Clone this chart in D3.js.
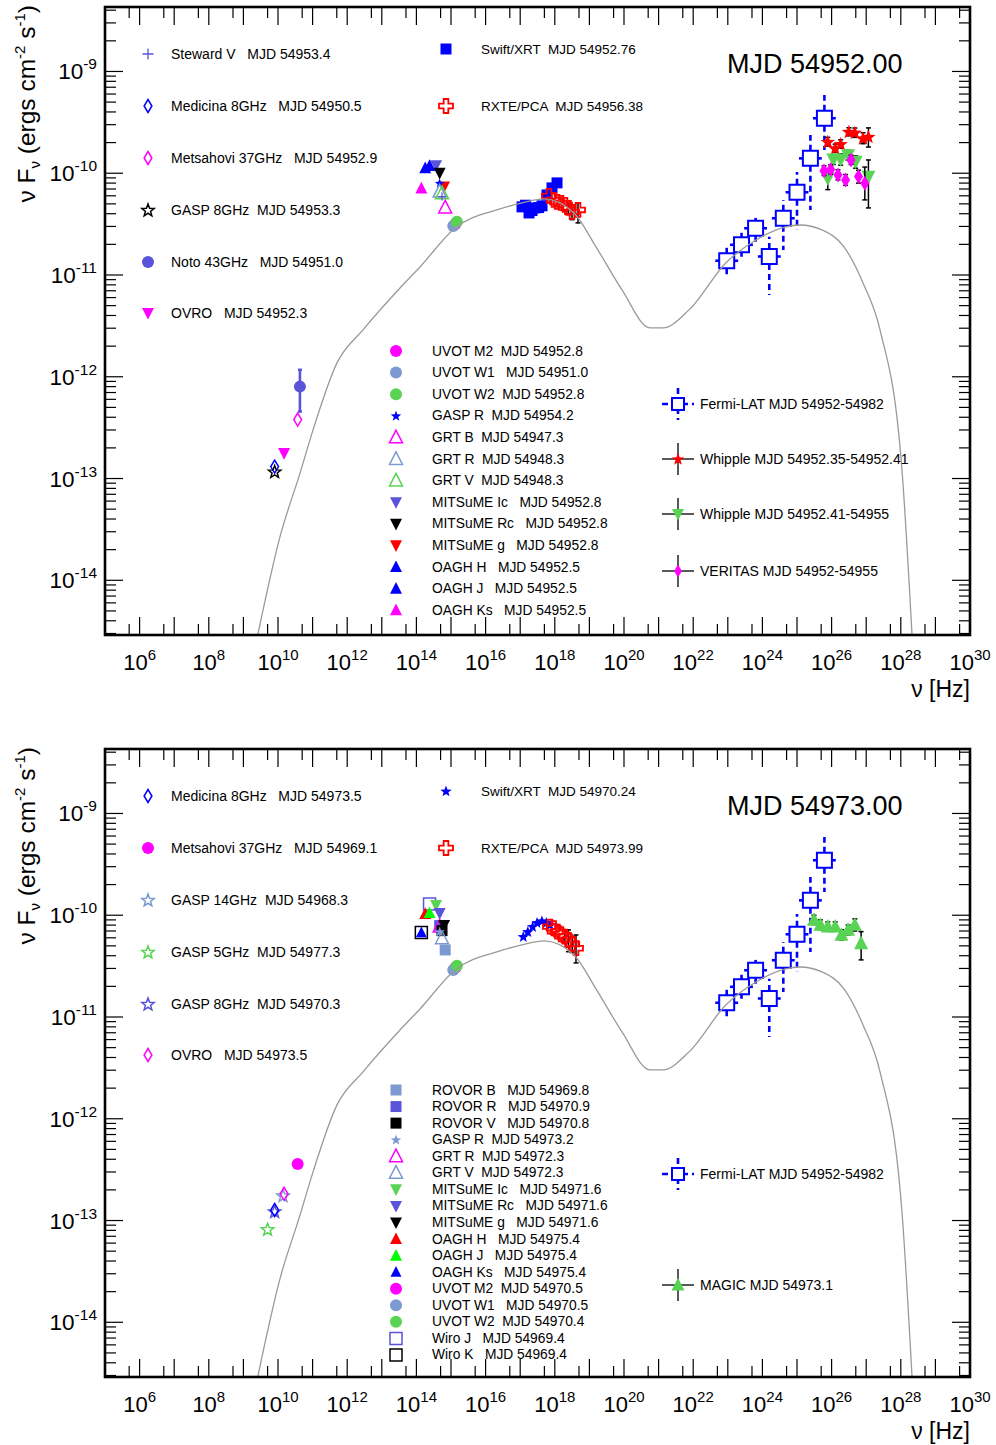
<!DOCTYPE html>
<html><head><meta charset="utf-8">
<script src="https://cdn.jsdelivr.net/npm/d3@7"></script>
<style>body{margin:0;background:#fff} text{font-family:"Liberation Sans",Arial,Helvetica,sans-serif;white-space:pre}</style>
</head><body><svg id="c" width="996" height="1445" xmlns="http://www.w3.org/2000/svg"></svg>
<script>
// ---------------- axes ----------------
const X_DOMAIN = [1e5, 1e30];
const Y_DOMAIN = [2.9e-15, 4.3e-9];
const xMajorExp = d3.range(5, 31);            // decades
const xLabelExp = [6,8,10,12,14,16,18,20,22,24,26,28,30];
const yLabelExp = [-9,-10,-11,-12,-13,-14];
const panelTitles = ["MJD 54952.00", "MJD 54973.00"];

// ---------------- model curve (same in both panels) ----------------
const modelNu = [2.6e9,1.14e10,4.33e10,1.03e11,5.07e11,2.86e12,3.36e13,1.27e14,1.31e15,2.61e16,1.13e17,4.88e17,3.59e18,1.55e19,8.75e19,5.64e20,1.34e21,7.57e21,8.87e22,6.53e23,4.50e24,1.22e25,5.28e25,2.28e26,8.09e26,2.51e27,1.08e28,2.11e28];
const modelF  = [2.92e-15,2.67e-14,1.13e-13,3.01e-13,1.37e-12,2.89e-12,7.46e-12,1.20e-11,2.90e-11,4.46e-11,5.11e-11,5.60e-11,4.07e-11,1.89e-11,7.14e-12,3.02e-12,3.02e-12,4.54e-12,1.32e-11,2.21e-11,2.96e-11,3.10e-11,2.77e-11,1.89e-11,8.36e-12,2.89e-12,1.22e-13,2.92e-15];

// ---------------- Fermi-LAT (both panels): [nu, F, nuLo, nuHi, Flo, Fhi] ----------------
const fermiLAT = [
 [9.29e22,1.38e-11,4.35e22,1.99e23,9.35e-12,1.85e-11],
 [2.49e23,1.98e-11,1.16e23,5.32e23,1.51e-11,2.60e-11],
 [6.36e23,2.88e-11,2.97e23,1.36e24,2.11e-11,3.64e-11],
 [1.58e24,1.52e-11,7.40e23,3.38e24,6.37e-12,2.37e-11],
 [4.02e24,3.61e-11,1.88e24,8.59e24,1.76e-11,5.47e-11],
 [1.00e25,6.50e-11,4.68e24,2.14e25,2.77e-11,1.03e-10],
 [2.44e25,1.40e-10,1.14e25,5.21e25,4.36e-11,2.38e-10],
 [6.20e25,3.47e-10,2.90e25,1.32e26,1.69e-10,5.87e-10]];

// ---------------- top panel (MJD 54952) ----------------
const A_stewardV   = [[5.5e14,5.9e-11]];
const A_medicina8  = [[8.0e9,1.31e-13]];
const A_metsahovi37= [[3.7e10,3.8e-13]];
const A_gasp8      = [[8.0e9,1.17e-13]];
const A_noto43     = [[4.3e10,8.0e-13,4.55e-13,1.17e-12]];
const A_ovro       = [[1.5e10,1.78e-13]];
const A_swiftXRT   = [[1.13e17,4.67e-11],[1.42e17,4.85e-11],[1.80e17,4.07e-11],[2.2e17,4.3e-11],[2.68e17,4.56e-11],[3.4e17,4.6e-11],[4.27e17,4.78e-11],[5.96e17,6.12e-11],[8.30e17,7.18e-11],[1.16e18,8.04e-11]];
const A_rxte       = [[6.79e17,5.98e-11],[9.48e17,5.47e-11],[1.16e18,5.22e-11],[1.51e18,5.11e-11],[1.97e18,4.88e-11],[2.49e18,4.56e-11,4.0e-11,5.1e-11],[3.14e18,4.17e-11,3.5e-11,4.9e-11],[4.69e18,4.36e-11,3.25e-11,5.11e-11]];
const A_uvotM2     = [[1.34e15,3.17e-11]];
const A_uvotW1     = [[1.16e15,3.03e-11]];
const A_uvotW2     = [[1.48e15,3.34e-11]];
const A_gaspR      = [[4.7e14,8.0e-11]];
const A_grtB       = [[6.8e14,4.6e-11]];
const A_grtR       = [[4.7e14,6.6e-11]];
const A_grtV       = [[5.5e14,6.35e-11]];
const A_mitsIc     = [[3.7e14,1.2e-10]];
const A_mitsRc     = [[4.7e14,1.01e-10]];
const A_mitsG      = [[6.3e14,7.4e-11]];
const A_oaghH      = [[1.8e14,1.12e-10]];
const A_oaghJ      = [[2.4e14,1.18e-10]];
const A_oaghKs     = [[1.39e14,7.1e-11]];
const A_whipple1   = [[7.76e25,2.04e-10,1.85e-10,2.25e-10],[1.27e26,1.76e-10,1.60e-10,1.93e-10],[1.83e26,1.94e-10,1.76e-10,2.13e-10],[3.16e26,2.56e-10,2.33e-10,2.80e-10],[4.69e26,2.51e-10,2.25e-10,2.78e-10],[8.09e26,2.21e-10,1.95e-10,2.50e-10],[1.16e27,2.29e-10,1.81e-10,2.79e-10]];
const A_whipple2   = [[7.76e25,8.93e-11,6.9e-11,1.05e-10],[1.12e26,1.37e-10,1.22e-10,1.52e-10],[1.83e26,1.37e-10,1.20e-10,1.55e-10],[2.98e26,1.51e-10,1.35e-10,1.68e-10],[4.94e26,1.30e-10,1.12e-10,1.48e-10],[1.16e27,9.26e-11,4.56e-11,1.35e-10]];
const A_veritas    = [[6.03e25,1.06e-10,9.5e-11,1.18e-10],[9.42e25,1.09e-10,9.8e-11,1.21e-10],[1.53e26,9.62e-11,8.6e-11,1.08e-10],[2.54e26,8.59e-11,7.6e-11,9.7e-11],[3.64e26,1.35e-10,1.22e-10,1.50e-10],[6.0e26,9.27e-11,8.0e-11,1.07e-10],[9.12e26,7.98e-11,5.47e-11,1.15e-10]];

const A_legLeft  = ["Steward V   MJD 54953.4","Medicina 8GHz   MJD 54950.5","Metsahovi 37GHz   MJD 54952.9","GASP 8GHz  MJD 54953.3","Noto 43GHz   MJD 54951.0","OVRO   MJD 54952.3"];
const A_legTop   = ["Swift/XRT  MJD 54952.76","RXTE/PCA  MJD 54956.38"];
const A_legMid   = ["UVOT M2  MJD 54952.8","UVOT W1   MJD 54951.0","UVOT W2  MJD 54952.8","GASP R  MJD 54954.2","GRT B  MJD 54947.3","GRT R  MJD 54948.3","GRT V  MJD 54948.3","MITSuME Ic   MJD 54952.8","MITSuME Rc   MJD 54952.8","MITSuME g   MJD 54952.8","OAGH H   MJD 54952.5","OAGH J   MJD 54952.5","OAGH Ks   MJD 54952.5"];
const A_legRight = ["Fermi-LAT MJD 54952-54982","Whipple MJD 54952.35-54952.41","Whipple MJD 54952.41-54955","VERITAS MJD 54952-54955"];

// ---------------- bottom panel (MJD 54973) ----------------
const B_medicina8  = [[8.0e9,1.27e-13]];
const B_metsahovi37= [[3.7e10,3.6e-13]];
const B_gasp14     = [[1.4e10,1.76e-13]];
const B_gasp5      = [[5.0e9,8.2e-14]];
const B_gasp8      = [[8.0e9,1.23e-13]];
const B_ovro       = [[1.5e10,1.83e-13]];
const B_swiftXRT   = [[1.23e17,6.17e-11],[1.66e17,6.9e-11],[2.28e17,7.73e-11],[3.06e17,8.46e-11],[4.24e17,8.79e-11],[5.68e17,8.46e-11],[7.26e17,8.03e-11]];
const B_rxte       = [[7.26e17,7.73e-11],[9.29e17,7.45e-11],[1.19e18,6.9e-11],[1.51e18,6.5e-11],[1.95e18,6.17e-11,5.4e-11,7.0e-11],[2.49e18,5.71e-11,4.38e-11,7.18e-11],[3.18e18,5.22e-11,4.3e-11,6.2e-11],[4.10e18,4.74e-11,3.4e-11,6.4e-11]];
const B_rovorB     = [[6.8e14,4.56e-11]];
const B_rovorR     = [[4.7e14,7.9e-11]];
const B_rovorV     = [[5.5e14,7.06e-11]];
const B_gaspR      = [[4.7e14,6.9e-11]];
const B_grtR       = [[4.7e14,7.73e-11]];
const B_grtV       = [[5.5e14,5.94e-11]];
const B_mitsIc     = [[3.7e14,1.26e-10]];
const B_mitsRc     = [[4.7e14,1.05e-10]];
const B_mitsG      = [[6.3e14,8.0e-11]];
const B_oaghH      = [[1.8e14,1.03e-10]];
const B_oaghJ      = [[2.4e14,1.05e-10]];
const B_oaghKs     = [[1.39e14,6.75e-11]];
const B_uvotM2     = [[1.34e15,3.04e-11]];
const B_uvotW1     = [[1.16e15,2.9e-11]];
const B_uvotW2     = [[1.48e15,3.18e-11]];
const B_wiroJ      = [[2.4e14,1.29e-10]];
const B_wiroK      = [[1.39e14,6.75e-11]];
const B_magic      = [[3.1e25,9.0e-11,8.1e-11,1.0e-10],[4.74e25,8.03e-11,7.2e-11,9.0e-11],[7.76e25,7.73e-11,7.0e-11,8.6e-11],[1.27e26,7.73e-11,7.0e-11,8.6e-11],[1.93e26,6.4e-11,5.7e-11,7.2e-11],[3.0e26,7.17e-11,6.4e-11,8.0e-11],[4.69e26,8.03e-11,7.0e-11,9.2e-11],[7.13e26,5.3e-11,3.64e-11,6.9e-11]];

const B_legLeft  = ["Medicina 8GHz   MJD 54973.5","Metsahovi 37GHz   MJD 54969.1","GASP 14GHz  MJD 54968.3","GASP 5GHz  MJD 54977.3","GASP 8GHz  MJD 54970.3","OVRO   MJD 54973.5"];
const B_legTop   = ["Swift/XRT  MJD 54970.24","RXTE/PCA  MJD 54973.99"];
const B_legMid   = ["ROVOR B   MJD 54969.8","ROVOR R   MJD 54970.9","ROVOR V   MJD 54970.8","GASP R  MJD 54973.2","GRT R  MJD 54972.3","GRT V  MJD 54972.3","MITSuME Ic   MJD 54971.6","MITSuME Rc   MJD 54971.6","MITSuME g   MJD 54971.6","OAGH H   MJD 54975.4","OAGH J   MJD 54975.4","OAGH Ks   MJD 54975.4","UVOT M2  MJD 54970.5","UVOT W1   MJD 54970.5","UVOT W2  MJD 54970.4","Wiro J   MJD 54969.4","Wiro K   MJD 54969.4"];
const B_legRight = ["Fermi-LAT MJD 54952-54982","MAGIC MJD 54973.1"];

// ---------------- styling ----------------
const C = {blue:'#0000ff',mag:'#ff00ff',red:'#ff0000',grn:'#59d354',slate:'#5954d9',lblue:'#7d99d1',blk:'#000000',lime:'#00ff00'};
const svg = d3.select('#c');
svg.append('rect').attr('width',996).attr('height',1445).attr('fill','#fff');

function mpath(type, s){
  const h = s/2;
  switch(type){
    case 'circle': return `M${-h},0a${h},${h} 0 1,0 ${s},0a${h},${h} 0 1,0 ${-s},0Z`;
    case 'square': return `M${-h},${-h}h${s}v${s}h${-s}Z`;
    case 'triUp': return `M0,${-0.55*s}L${h},${0.42*s}L${-h},${0.42*s}Z`;
    case 'triDown': return `M0,${0.55*s}L${h},${-0.42*s}L${-h},${-0.42*s}Z`;
    case 'diamond': return `M0,${-h}L${0.3*s},0L0,${h}L${-0.3*s},0Z`;
    case 'star': { let p=''; for(let i=0;i<10;i++){const r=i%2?h*0.42:h; const a=-Math.PI/2+i*Math.PI/5; p+=(i?'L':'M')+(r*Math.cos(a)).toFixed(2)+','+(r*Math.sin(a)+h*0.08).toFixed(2);} return p+'Z'; }
    case 'cross': { const a=s/6; const b=h-a; return `M${-a},${-h}h${2*a}v${b}h${b}v${2*a}h${-b}v${b}h${-2*a}v${-b}h${-b}v${-2*a}h${b}Z`; }
    case 'plus': return `M${-h},0H${h}M0,${-h}V${h}`;
  }
}
function drawMarker(g, x, y, st){
  const p = g.append('path').attr('d', mpath(st.t, st.s)).attr('transform',`translate(${x},${y})`);
  if (st.t==='plus') p.attr('fill','none').attr('stroke',st.c).attr('stroke-width',1.3);
  else if (st.o) p.attr('fill','none').attr('stroke',st.c).attr('stroke-width',st.w||1.5);
  else p.attr('fill',st.c).attr('stroke','none');
}

const S = {
  medicina:{t:'diamond',s:13,c:C.blue,o:1}, gasp8A:{t:'star',s:13,c:C.blk,o:1}, ovroA:{t:'triDown',s:12,c:C.mag},
  metsA:{t:'diamond',s:13,c:C.mag,o:1}, noto:{t:'circle',s:12,c:C.slate}, steward:{t:'plus',s:11,c:C.slate},
  swiftSq:{t:'square',s:11,c:C.blue}, rxte:{t:'cross',s:14,c:C.red,o:1,w:1.8},
  uvotM2:{t:'circle',s:12,c:C.mag}, uvotW1:{t:'circle',s:12,c:C.lblue}, uvotW2:{t:'circle',s:12,c:C.grn},
  gaspRA:{t:'star',s:10,c:C.blue}, grtB:{t:'triUp',s:13,c:C.mag,o:1}, grtRA:{t:'triUp',s:13,c:C.lblue,o:1}, grtVA:{t:'triUp',s:13,c:C.grn,o:1},
  mitsIcA:{t:'triDown',s:12,c:C.slate}, mitsRcA:{t:'triDown',s:12,c:C.blk}, mitsGA:{t:'triDown',s:12,c:C.red},
  oaghHA:{t:'triUp',s:12,c:C.blue}, oaghJA:{t:'triUp',s:12,c:C.blue}, oaghKsA:{t:'triUp',s:12,c:C.mag},
  whip1:{t:'star',s:15,c:C.red}, whip2:{t:'triDown',s:14,c:C.grn}, veritas:{t:'diamond',s:15,c:C.mag},
  fermi:{t:'square',s:15,c:C.blue,o:1,w:2},
  metsB:{t:'circle',s:12,c:C.mag}, gasp14:{t:'star',s:13,c:C.lblue,o:1}, gasp5:{t:'star',s:13,c:C.grn,o:1}, gasp8B:{t:'star',s:13,c:C.slate,o:1},
  ovroB:{t:'diamond',s:13,c:C.mag,o:1}, swiftStar:{t:'star',s:12,c:C.blue},
  rovorB:{t:'square',s:11,c:C.lblue}, rovorR:{t:'square',s:11,c:C.slate}, rovorV:{t:'square',s:11,c:C.blk}, gaspRB:{t:'star',s:11,c:C.lblue},
  grtRB:{t:'triUp',s:13,c:C.mag,o:1}, grtVB:{t:'triUp',s:13,c:C.lblue,o:1}, mitsIcB:{t:'triDown',s:12,c:C.grn}, mitsRcB:{t:'triDown',s:12,c:C.slate}, mitsGB:{t:'triDown',s:12,c:C.blk},
  oaghHB:{t:'triUp',s:12,c:C.red}, oaghJB:{t:'triUp',s:12,c:C.lime}, oaghKsB:{t:'triUp',s:11,c:C.blue},
  wiroJ:{t:'square',s:12,c:C.slate,o:1}, wiroK:{t:'square',s:12,c:C.blk,o:1}, magic:{t:'triUp',s:14,c:C.grn}
};

function panel(off, idx){
  const x = d3.scaleLog().domain(X_DOMAIN).range([105,970]);
  const y = d3.scaleLog().domain(Y_DOMAIN).range([635+off,7+off]);
  const g = svg.append('g');
  const cid = 'clip'+idx;
  svg.append('clipPath').attr('id',cid).append('rect').attr('x',105).attr('y',7+off).attr('width',865).attr('height',628);
  const plot = g.append('g').attr('clip-path',`url(#${cid})`);

  function errV(d, col, w, cap){
    plot.append('line').attr('x1',x(d[0])).attr('x2',x(d[0])).attr('y1',y(d[2])).attr('y2',y(d[3])).attr('stroke',col).attr('stroke-width',w);
    if (cap){ [d[2],d[3]].forEach(v=>plot.append('line').attr('x1',x(d[0])-cap).attr('x2',x(d[0])+cap).attr('y1',y(v)).attr('y2',y(v)).attr('stroke',col).attr('stroke-width',w)); }
  }
  function series(data, st, errCol, errW, cap){
    if (errCol) data.filter(d=>d.length>=4).forEach(d=>errV(d, errCol, errW, cap));
    data.forEach(d=>drawMarker(plot, x(d[0]), y(d[1]), st));
  }
  function fermi(){
    fermiLAT.forEach(d=>{
      const cx=x(d[0]), cy=y(d[1]), h=S.fermi.s/2;
      [[cx,cy-h,cx,y(d[5])],[cx,cy+h,cx,y(d[4])],[cx-h,cy,x(d[2]),cy],[cx+h,cy,x(d[3]),cy]].forEach(l=>{
        plot.append('line').attr('x1',l[0]).attr('y1',l[1]).attr('x2',l[2]).attr('y2',l[3]).attr('stroke',C.blue).attr('stroke-width',2.6).attr('stroke-dasharray','6,4');
      });
      drawMarker(plot, cx, cy, S.fermi);
    });
  }

  if (idx===0){
    series(A_medicina8,S.medicina); series(A_gasp8,S.gasp8A); series(A_ovro,S.ovroA); series(A_metsahovi37,S.metsA);
    series(A_noto43,S.noto,C.slate,2.6,2);
    series(A_oaghKs,S.oaghKsA); series(A_oaghH,S.oaghHA); series(A_oaghJ,S.oaghJA);
    series(A_mitsIc,S.mitsIcA); series(A_mitsRc,S.mitsRcA); series(A_mitsG,S.mitsGA);
    series(A_gaspR,S.gaspRA); series(A_grtR,S.grtRA); series(A_grtV,S.grtVA); series(A_grtB,S.grtB); series(A_stewardV,{t:'plus',s:8,c:C.slate});
    series(A_uvotM2,S.uvotM2); series(A_uvotW1,S.uvotW1); series(A_uvotW2,S.uvotW2);
    series(A_swiftXRT,S.swiftSq);
    series(A_rxte,S.rxte,C.blk,1.5,2.5);
    fermi();
    series(A_whipple1,S.whip1,C.blk,1.5,2.5);
    series(A_whipple2,S.whip2,C.blk,1.5,2.5);
    series(A_veritas,S.veritas,C.blk,1.5,2.5);
  } else {
    series(B_gasp5,S.gasp5); series(B_gasp8,S.gasp8B); series(B_medicina8,S.medicina); series(B_gasp14,S.gasp14); series(B_ovro,S.ovroB); series(B_metsahovi37,S.metsB);
    series(B_wiroK,S.wiroK); series(B_oaghKs,S.oaghKsB); series(B_wiroJ,S.wiroJ); series(B_oaghH,S.oaghHB); series(B_oaghJ,S.oaghJB);
    series(B_mitsIc,S.mitsIcB); series(B_mitsRc,S.mitsRcB); series(B_rovorR,S.rovorR); series(B_grtR,S.grtRB); series(B_mitsG,S.mitsGB);
    series(B_rovorV,S.rovorV); series(B_gaspR,S.gaspRB); series(B_grtV,S.grtVB); series(B_rovorB,S.rovorB);
    series(B_uvotM2,S.uvotM2); series(B_uvotW1,S.uvotW1); series(B_uvotW2,S.uvotW2);
    series(B_swiftXRT,S.swiftStar);
    series(B_rxte,S.rxte,C.blk,1.5,2.5);
    fermi();
    series(B_magic,S.magic,C.blk,1.5,2.5);
  }

  // model curve
  const line = d3.line().x(d=>x(d[0])).y(d=>y(d[1])).curve(d3.curveMonotoneX);
  plot.append('path').attr('d', line(modelNu.map((n,i)=>[n,modelF[i]]))).attr('fill','none').attr('stroke','#9a9a9a').attr('stroke-width',1.3);

  // ticks
  const tk = g.append('g').attr('stroke','#000').attr('stroke-width',1.2);
  const yT=7+off, yB=635+off;
  xMajorExp.forEach(e=>{
    const v=Math.pow(10,e), px=x(v);
    if (px>105.5 && px<969.5){ tk.append('line').attr('x1',px).attr('x2',px).attr('y1',yB).attr('y2',yB-18); tk.append('line').attr('x1',px).attr('x2',px).attr('y1',yT).attr('y2',yT+18); }
    const pm=x(5*v);
    if (pm<969.5){ tk.append('line').attr('x1',pm).attr('x2',pm).attr('y1',yB).attr('y2',yB-11); tk.append('line').attr('x1',pm).attr('x2',pm).attr('y1',yT).attr('y2',yT+11); }
  });
  d3.range(-15,-8).forEach(e=>{
    for (let m=1;m<=9;m++){
      const v=m*Math.pow(10,e);
      if (v<Y_DOMAIN[0]||v>Y_DOMAIN[1]) continue;
      const py=y(v), L=(m===1)?18:11;
      tk.append('line').attr('x1',105).attr('x2',105+L).attr('y1',py).attr('y2',py);
      tk.append('line').attr('x1',970).attr('x2',970-L).attr('y1',py).attr('y2',py);
    }
  });
  g.append('rect').attr('x',105).attr('y',7+off).attr('width',865).attr('height',628).attr('fill','none').attr('stroke','#000').attr('stroke-width',2.6);

  // tick labels
  xLabelExp.forEach(e=>{
    const t=g.append('text').attr('x',x(Math.pow(10,e))).attr('y',670+off).attr('text-anchor','middle').attr('font-size',22);
    t.append('tspan').text('10'); t.append('tspan').attr('font-size',15).attr('dy',-10).text(e);
  });
  yLabelExp.forEach(e=>{
    const t=g.append('text').attr('x',97).attr('y',y(Math.pow(10,e))+8).attr('text-anchor','end').attr('font-size',22.5);
    t.append('tspan').text('10'); t.append('tspan').attr('font-size',15.5).attr('dy',-10).text(e);
  });
  g.append('text').attr('x',970).attr('y',697+off).attr('text-anchor','end').attr('font-size',23).text('\u03bd [Hz]');
  const yt=g.append('text').attr('transform',`translate(35,${5+off}) rotate(-90)`).attr('text-anchor','end').attr('font-size',24.5);
  yt.append('tspan').text('\u03bd F');
  yt.append('tspan').attr('font-size',15).attr('dy',5).text('\u03bd');
  yt.append('tspan').attr('dy',-5).text(' (ergs cm');
  yt.append('tspan').attr('font-size',15).attr('dy',-10).text('-2');
  yt.append('tspan').attr('dy',10).text(' s');
  yt.append('tspan').attr('font-size',15).attr('dy',-10).text('-1');
  yt.append('tspan').attr('dy',10).text(')');

  g.append('text').attr('x',727).attr('y',73+off).attr('font-size',27).text(panelTitles[idx]);

  // legends
  const lg = g.append('g');
  function leg(mx, my, st, label, tx, fs){
    drawMarker(lg, mx, my, st);
    lg.append('text').attr('x',tx).attr('y',my+4.5).attr('font-size',fs).text(label);
  }
  function legErr(mx,my,st,label,dashed){
    const col = dashed?C.blue:C.blk;
    [[mx,my-16,mx,my+16],[mx-16,my,mx+16,my]].forEach(l=>lg.append('line').attr('x1',l[0]).attr('y1',l[1]).attr('x2',l[2]).attr('y2',l[3]).attr('stroke',col).attr('stroke-width',dashed?2.6:1.3).attr('stroke-dasharray',dashed?'6,4':null));
    if (dashed) lg.append('rect').attr('x',mx-6).attr('y',my-6).attr('width',12).attr('height',12).attr('fill','#fff');
    drawMarker(lg,mx,my,st);
    lg.append('text').attr('x',700).attr('y',my+4.5).attr('font-size',14).text(label);
  }
  const leftY=[54,106,158,210,262,313];
  if (idx===0){
    [S.steward,S.medicina,S.metsA,S.gasp8A,S.noto,S.ovroA].forEach((st,i)=>leg(148,leftY[i]+off,st,A_legLeft[i],171,14));
    [S.swiftSq,S.rxte].forEach((st,i)=>leg(446,[49,106][i]+off,st,A_legTop[i],481,13.5));
    [S.uvotM2,S.uvotW1,S.uvotW2,{t:'star',s:11,c:C.blue},S.grtB,S.grtRA,S.grtVA,S.mitsIcA,S.mitsRcA,S.mitsGA,S.oaghHA,S.oaghJA,S.oaghKsA]
      .forEach((st,i)=>leg(396,351+i*21.6+off,st,A_legMid[i],432,13.8));
    legErr(678,404+off,{t:'square',s:12,c:C.blue,o:1,w:2},A_legRight[0],true);
    legErr(678,459+off,{t:'star',s:13,c:C.red},A_legRight[1],false);
    legErr(678,514+off,{t:'triDown',s:12,c:C.grn},A_legRight[2],false);
    legErr(678,571+off,{t:'diamond',s:13,c:C.mag},A_legRight[3],false);
  } else {
    [S.medicina,S.metsB,S.gasp14,S.gasp5,S.gasp8B,S.ovroB].forEach((st,i)=>leg(148,leftY[i]+off,st,B_legLeft[i],171,14));
    [{t:'star',s:12,c:C.blue},S.rxte].forEach((st,i)=>leg(446,[49,106][i]+off,st,B_legTop[i],481,13.5));
    const ms=[S.rovorB,S.rovorR,S.rovorV,{t:'star',s:11,c:C.lblue},S.grtRB,S.grtVB,S.mitsIcB,S.mitsRcB,S.mitsGB,S.oaghHB,S.oaghJB,S.oaghKsB,S.uvotM2,S.uvotW1,S.uvotW2,S.wiroJ,S.wiroK];
    ms.forEach((st,i)=>leg(396,1090-742+i*16.56+off,st,B_legMid[i],432,13.8));
    legErr(678,1174,{t:'square',s:12,c:C.blue,o:1,w:2},B_legRight[0],true);
    legErr(678,1285,{t:'triUp',s:13,c:C.grn},B_legRight[1],false);
  }
}
panel(0,0);
panel(742,1);
</script></body></html>
